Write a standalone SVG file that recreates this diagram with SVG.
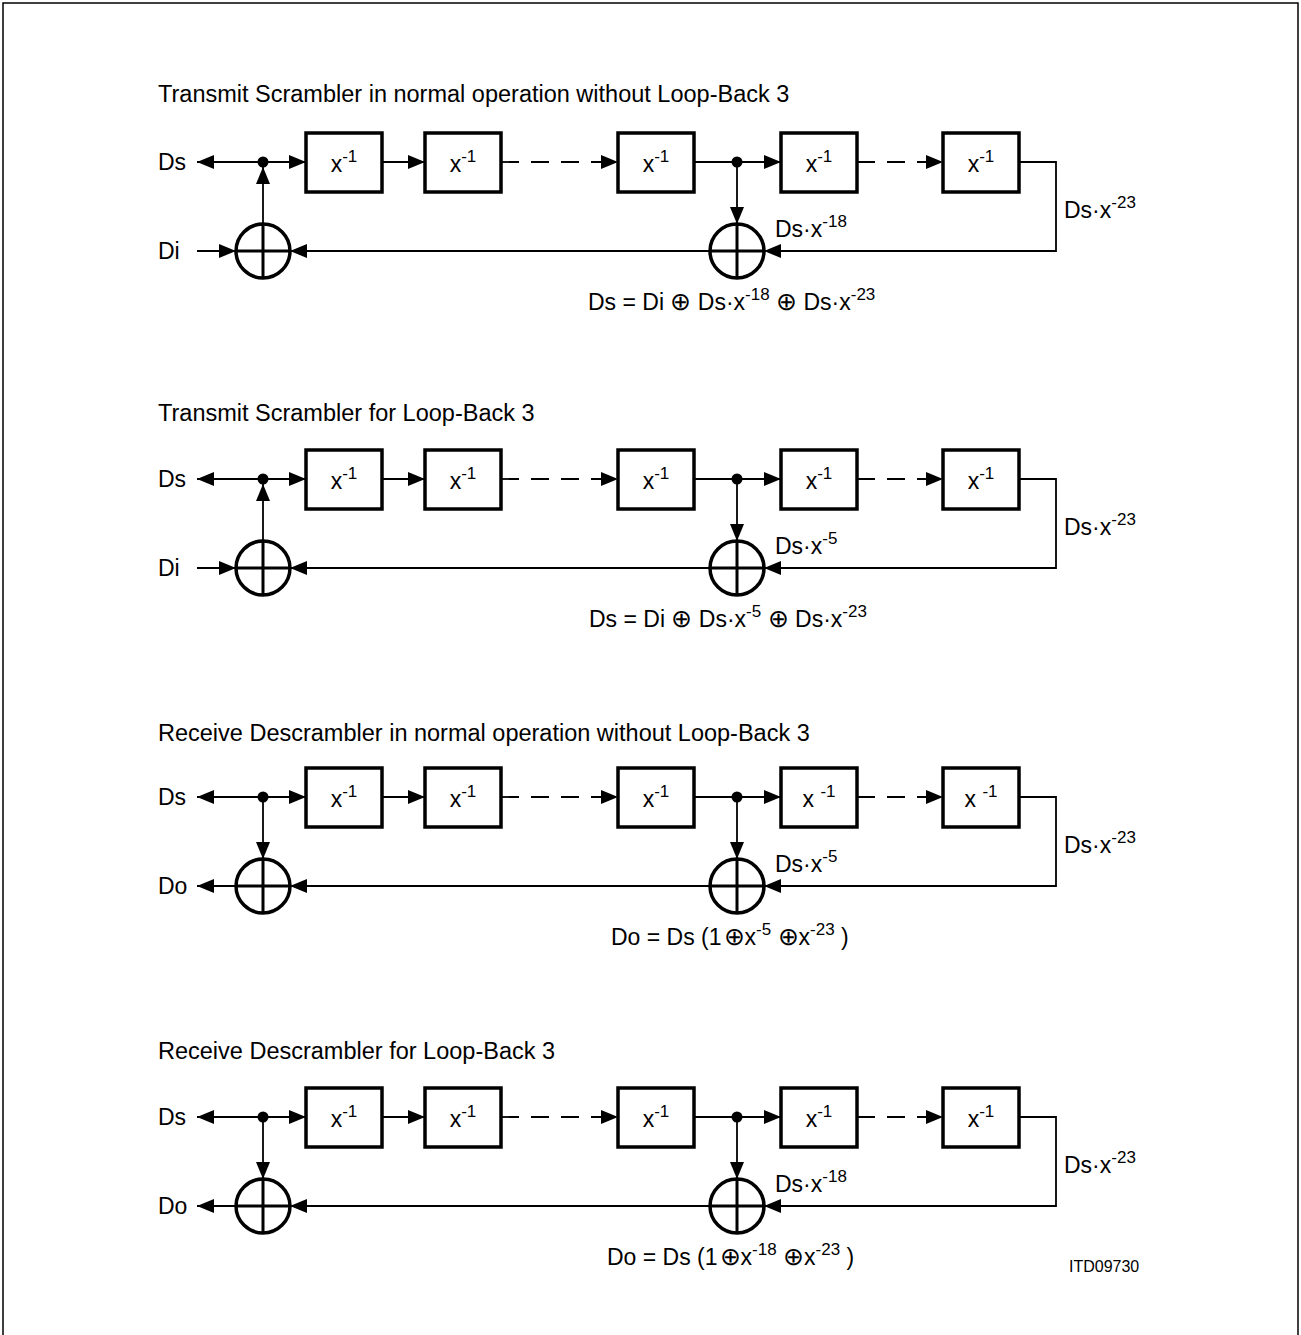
<svg xmlns="http://www.w3.org/2000/svg" width="1301" height="1335" viewBox="0 0 1301 1335">
<defs>
<marker id="ah" markerWidth="17" markerHeight="14" refX="17" refY="7" orient="auto" markerUnits="userSpaceOnUse"><path d="M0,0 L17,7 L0,14 z" fill="#000"/></marker>
</defs>
<style>
text{font-family:"Liberation Sans",Arial,sans-serif;font-size:23px;fill:#000}
.title{font-size:23.5px}
.sup{font-size:17px}
.op{font-family:"DejaVu Sans",sans-serif;font-size:25px;font-weight:200}
.small{font-size:16px}
.box{fill:#fff;stroke:#000;stroke-width:3.5}
.xor circle{fill:#fff;stroke:#000;stroke-width:3.5}
.xor path{stroke:#000;stroke-width:3;fill:none}
.dot{fill:#000}
.c{fill:none;stroke:#000;stroke-width:1.8}
.a{marker-end:url(#ah)}
.d{stroke-dasharray:18 12}
</style>
<rect x="0" y="0" width="1301" height="1335" fill="#fff"/>
<rect x="3" y="3" width="1295" height="1345" fill="none" stroke="#000" stroke-width="1.5"/>

<!-- Section 1 -->
<g id="sec1">
<text class="title" x="158" y="102">Transmit Scrambler in normal operation without Loop-Back 3</text>
<g id="s1-connectors">
<path class="c a" d="M263,162 H197"/>
<path class="c a" d="M263,162 H306"/>
<path class="c a" d="M382,162 H425"/>
<path class="c a d" d="M501,162 H618"/>
<path class="c a" d="M694,162 H781"/>
<path class="c a d" d="M857,162 H943"/>
<path class="c a" d="M1019,162 H1056 V251 H764"/>
<path class="c a" d="M737,162 V224"/>
<path class="c a" d="M710,251 H290"/>
<path class="c a" d="M197,251 H236"/>
<path class="c a" d="M263,225 V167"/>
</g>
<g id="s1-ds"><text x="158" y="170">Ds</text></g>
<g id="s1-di"><text x="158" y="259">Di</text></g>
<g id="s1-j1"><circle class="dot" cx="263" cy="162" r="5.5"/></g>
<g id="s1-j2"><circle class="dot" cx="737" cy="162" r="5.5"/></g>
<g id="s1-b1"><rect class="box" x="306" y="133" width="76" height="59"/><text x="344" y="172" text-anchor="middle">x<tspan class="sup" dy="-10">-1</tspan></text></g>
<g id="s1-b2"><rect class="box" x="425" y="133" width="76" height="59"/><text x="463" y="172" text-anchor="middle">x<tspan class="sup" dy="-10">-1</tspan></text></g>
<g id="s1-b3"><rect class="box" x="618" y="133" width="76" height="59"/><text x="656" y="172" text-anchor="middle">x<tspan class="sup" dy="-10">-1</tspan></text></g>
<g id="s1-b4"><rect class="box" x="781" y="133" width="76" height="59"/><text x="819" y="172" text-anchor="middle">x<tspan class="sup" dy="-10">-1</tspan></text></g>
<g id="s1-b5"><rect class="box" x="943" y="133" width="76" height="59"/><text x="981" y="172" text-anchor="middle">x<tspan class="sup" dy="-10">-1</tspan></text></g>
<g id="s1-x1" class="xor"><circle cx="263" cy="251" r="27"/><path d="M236,251 H290 M263,224 V278"/></g>
<g id="s1-x2" class="xor"><circle cx="737" cy="251" r="27"/><path d="M710,251 H764 M737,224 V278"/></g>
<text x="775" y="237">Ds·x<tspan class="sup" dy="-10">-18</tspan></text>
<text x="1064" y="218">Ds·x<tspan class="sup" dy="-10">-23</tspan></text>
<text x="588" y="310">Ds = Di <tspan class="op">⊕</tspan> Ds·x<tspan class="sup" dy="-10">-18</tspan><tspan dy="10"> </tspan><tspan class="op">⊕</tspan> Ds·x<tspan class="sup" dy="-10">-23</tspan></text>
</g>

<!-- Section 2 -->
<g id="sec2" transform="translate(0,317)">
<text class="title" x="158" y="104">Transmit Scrambler for Loop-Back 3</text>
<g id="s2-connectors">
<path class="c a" d="M263,162 H197"/>
<path class="c a" d="M263,162 H306"/>
<path class="c a" d="M382,162 H425"/>
<path class="c a d" d="M501,162 H618"/>
<path class="c a" d="M694,162 H781"/>
<path class="c a d" d="M857,162 H943"/>
<path class="c a" d="M1019,162 H1056 V251 H764"/>
<path class="c a" d="M737,162 V224"/>
<path class="c a" d="M710,251 H290"/>
<path class="c a" d="M197,251 H236"/>
<path class="c a" d="M263,225 V167"/>
</g>
<g id="s2-ds"><text x="158" y="170">Ds</text></g>
<g id="s2-di"><text x="158" y="259">Di</text></g>
<g id="s2-j1"><circle class="dot" cx="263" cy="162" r="5.5"/></g>
<g id="s2-j2"><circle class="dot" cx="737" cy="162" r="5.5"/></g>
<g id="s2-b1"><rect class="box" x="306" y="133" width="76" height="59"/><text x="344" y="172" text-anchor="middle">x<tspan class="sup" dy="-10">-1</tspan></text></g>
<g id="s2-b2"><rect class="box" x="425" y="133" width="76" height="59"/><text x="463" y="172" text-anchor="middle">x<tspan class="sup" dy="-10">-1</tspan></text></g>
<g id="s2-b3"><rect class="box" x="618" y="133" width="76" height="59"/><text x="656" y="172" text-anchor="middle">x<tspan class="sup" dy="-10">-1</tspan></text></g>
<g id="s2-b4"><rect class="box" x="781" y="133" width="76" height="59"/><text x="819" y="172" text-anchor="middle">x<tspan class="sup" dy="-10">-1</tspan></text></g>
<g id="s2-b5"><rect class="box" x="943" y="133" width="76" height="59"/><text x="981" y="172" text-anchor="middle">x<tspan class="sup" dy="-10">-1</tspan></text></g>
<g id="s2-x1" class="xor"><circle cx="263" cy="251" r="27"/><path d="M236,251 H290 M263,224 V278"/></g>
<g id="s2-x2" class="xor"><circle cx="737" cy="251" r="27"/><path d="M710,251 H764 M737,224 V278"/></g>
<text x="775" y="237">Ds·x<tspan class="sup" dy="-10">-5</tspan></text>
<text x="1064" y="218">Ds·x<tspan class="sup" dy="-10">-23</tspan></text>
<text x="589" y="310">Ds = Di <tspan class="op">⊕</tspan> Ds·x<tspan class="sup" dy="-10">-5</tspan><tspan dy="10"> </tspan><tspan class="op">⊕</tspan> Ds·x<tspan class="sup" dy="-10">-23</tspan></text>
</g>

<!-- Section 3 -->
<g id="sec3" transform="translate(0,635)">
<text class="title" x="158" y="106">Receive Descrambler in normal operation without Loop-Back 3</text>
<g id="s3-connectors">
<path class="c a" d="M263,162 H197"/>
<path class="c a" d="M263,162 H306"/>
<path class="c a" d="M382,162 H425"/>
<path class="c a d" d="M501,162 H618"/>
<path class="c a" d="M694,162 H781"/>
<path class="c a d" d="M857,162 H943"/>
<path class="c a" d="M1019,162 H1056 V251 H764"/>
<path class="c a" d="M737,162 V224"/>
<path class="c a" d="M710,251 H290"/>
<path class="c a" d="M263,162 V224"/>
<path class="c a" d="M236,251 H197"/>
</g>
<g id="s3-ds"><text x="158" y="170">Ds</text></g>
<g id="s3-do"><text x="158" y="259">Do</text></g>
<g id="s3-j1"><circle class="dot" cx="263" cy="162" r="5.5"/></g>
<g id="s3-j2"><circle class="dot" cx="737" cy="162" r="5.5"/></g>
<g id="s3-b1"><rect class="box" x="306" y="133" width="76" height="59"/><text x="344" y="172" text-anchor="middle">x<tspan class="sup" dy="-10">-1</tspan></text></g>
<g id="s3-b2"><rect class="box" x="425" y="133" width="76" height="59"/><text x="463" y="172" text-anchor="middle">x<tspan class="sup" dy="-10">-1</tspan></text></g>
<g id="s3-b3"><rect class="box" x="618" y="133" width="76" height="59"/><text x="656" y="172" text-anchor="middle">x<tspan class="sup" dy="-10">-1</tspan></text></g>
<g id="s3-b4"><rect class="box" x="781" y="133" width="76" height="59"/><text x="819" y="172" text-anchor="middle">x <tspan class="sup" dy="-10">-1</tspan></text></g>
<g id="s3-b5"><rect class="box" x="943" y="133" width="76" height="59"/><text x="981" y="172" text-anchor="middle">x <tspan class="sup" dy="-10">-1</tspan></text></g>
<g id="s3-x1" class="xor"><circle cx="263" cy="251" r="27"/><path d="M236,251 H290 M263,224 V278"/></g>
<g id="s3-x2" class="xor"><circle cx="737" cy="251" r="27"/><path d="M710,251 H764 M737,224 V278"/></g>
<text x="775" y="237">Ds·x<tspan class="sup" dy="-10">-5</tspan></text>
<text x="1064" y="218">Ds·x<tspan class="sup" dy="-10">-23</tspan></text>
<text x="611" y="310">Do = Ds (1<tspan class="op" dx="2">⊕</tspan>x<tspan class="sup" dy="-10">-5</tspan><tspan dy="10"> </tspan><tspan class="op">⊕</tspan>x<tspan class="sup" dy="-10">-23</tspan><tspan dy="10"> )</tspan></text>
</g>

<!-- Section 4 -->
<g id="sec4" transform="translate(0,955)">
<text class="title" x="158" y="104">Receive Descrambler for Loop-Back 3</text>
<g id="s4-connectors">
<path class="c a" d="M263,162 H197"/>
<path class="c a" d="M263,162 H306"/>
<path class="c a" d="M382,162 H425"/>
<path class="c a d" d="M501,162 H618"/>
<path class="c a" d="M694,162 H781"/>
<path class="c a d" d="M857,162 H943"/>
<path class="c a" d="M1019,162 H1056 V251 H764"/>
<path class="c a" d="M737,162 V224"/>
<path class="c a" d="M710,251 H290"/>
<path class="c a" d="M263,162 V224"/>
<path class="c a" d="M236,251 H197"/>
</g>
<g id="s4-ds"><text x="158" y="170">Ds</text></g>
<g id="s4-do"><text x="158" y="259">Do</text></g>
<g id="s4-j1"><circle class="dot" cx="263" cy="162" r="5.5"/></g>
<g id="s4-j2"><circle class="dot" cx="737" cy="162" r="5.5"/></g>
<g id="s4-b1"><rect class="box" x="306" y="133" width="76" height="59"/><text x="344" y="172" text-anchor="middle">x<tspan class="sup" dy="-10">-1</tspan></text></g>
<g id="s4-b2"><rect class="box" x="425" y="133" width="76" height="59"/><text x="463" y="172" text-anchor="middle">x<tspan class="sup" dy="-10">-1</tspan></text></g>
<g id="s4-b3"><rect class="box" x="618" y="133" width="76" height="59"/><text x="656" y="172" text-anchor="middle">x<tspan class="sup" dy="-10">-1</tspan></text></g>
<g id="s4-b4"><rect class="box" x="781" y="133" width="76" height="59"/><text x="819" y="172" text-anchor="middle">x<tspan class="sup" dy="-10">-1</tspan></text></g>
<g id="s4-b5"><rect class="box" x="943" y="133" width="76" height="59"/><text x="981" y="172" text-anchor="middle">x<tspan class="sup" dy="-10">-1</tspan></text></g>
<g id="s4-x1" class="xor"><circle cx="263" cy="251" r="27"/><path d="M236,251 H290 M263,224 V278"/></g>
<g id="s4-x2" class="xor"><circle cx="737" cy="251" r="27"/><path d="M710,251 H764 M737,224 V278"/></g>
<text x="775" y="237">Ds·x<tspan class="sup" dy="-10">-18</tspan></text>
<text x="1064" y="218">Ds·x<tspan class="sup" dy="-10">-23</tspan></text>
<text x="607" y="310">Do = Ds (1<tspan class="op" dx="2">⊕</tspan>x<tspan class="sup" dy="-10">-18</tspan><tspan dy="10"> </tspan><tspan class="op">⊕</tspan>x<tspan class="sup" dy="-10">-23</tspan><tspan dy="10"> )</tspan></text>
<text class="small" x="1069" y="317">ITD09730</text>
</g>
</svg>
